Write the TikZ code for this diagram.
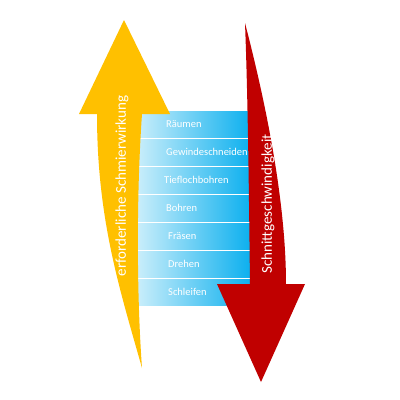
\documentclass[tikz,border=0pt]{standalone}
\usepackage{fontspec}
\setmainfont{Carlito}
\definecolor{arrowyellow}{HTML}{FFC000}
\definecolor{arrowred}{HTML}{C00000}
\definecolor{bandlight}{HTML}{CDEFFB}
\definecolor{banddark}{HTML}{0AAFEE}
\begin{document}
\begin{tikzpicture}[x=1pt,y=-1pt,
  band/.style={left color=bandlight,right color=banddark,draw=none},
  bandtext/.style={text=white,font=\fontsize{10.5}{12}\selectfont,anchor=west,inner sep=0pt},
  arrowtext/.style={text=white,font=\fontsize{15}{18}\selectfont,rotate=90,inner sep=0pt}]
\useasboundingbox (0,0) rectangle (400,400);
\fill[white] (0,0) rectangle (400,400);
% bands
\foreach \i/\t/\dx in {0/Räumen/0,1/Gewindeschneiden/0,2/Tieflochbohren/-2,3/Bohren/0,4/Fräsen/2,5/Drehen/2,6/Schleifen/2}{
  \shade[band] (135,{111+28*\i}) rectangle (252,{137+28*\i});
  \node[bandtext] (b\i) at ({166+\dx},{124+28*\i}) {\t};
}
% yellow arrow
\fill[arrowyellow] (124,20) -- (170,114) -- (142,114)
  .. controls (136,200) and (137,300) .. (142,368)
  .. controls (120,290) and (97,220) .. (97,114)
  -- (79,114) -- cycle;
\node[arrowtext] (ytext) at (122,186) {erforderliche Schmierwirkung};
% red arrow
\fill[arrowred] (245,23) .. controls (265,100) and (286,200) .. (286,284)
  -- (305,284) -- (261,382) -- (217,284) -- (250,284)
  .. controls (249,200) and (248,100) .. (245,23) -- cycle;
\node[arrowtext] (rtext) at (268,204) {Schnittgeschwindigkeit};
\end{tikzpicture}
\end{document}
